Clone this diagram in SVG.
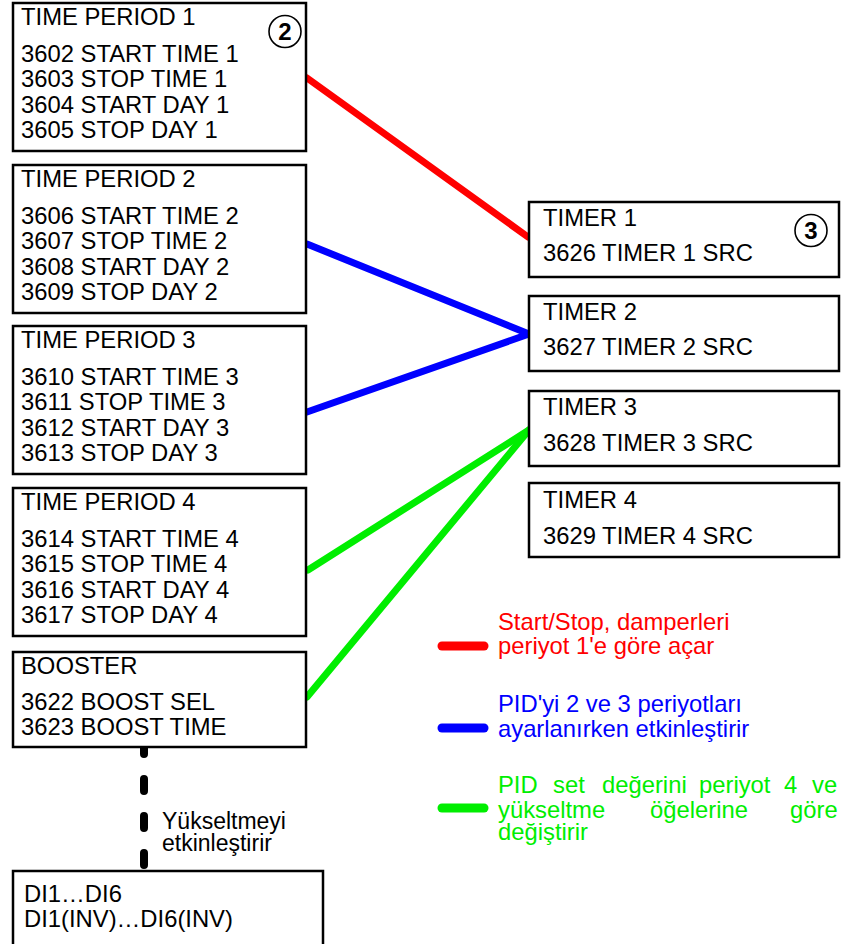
<svg xmlns="http://www.w3.org/2000/svg" width="845" height="944" viewBox="0 0 845 944">
<style>
text{font-family:"Liberation Sans",Arial,sans-serif;font-size:23.8px;fill:#000}
.box{fill:#fff;stroke:#000;stroke-width:2.5}
.num{font-weight:bold;font-size:24px}
.circ{fill:#fff;stroke:#000;stroke-width:1.6}
.c{stroke-width:7;stroke-linecap:round;fill:none}
.r{stroke:#ff0000}.b{stroke:#0000ff}.g{stroke:#00ee00}
.lr{fill:#ff0000}.lb{fill:#0000ff}.lg{fill:#00ee00}
.small{font-size:23px}
</style>
<g id="connectors">
<line class="c r" x1="307" y1="78" x2="528" y2="237"/>
<line class="c b" x1="307" y1="244" x2="529" y2="334"/>
<line class="c b" x1="307" y1="412" x2="529" y2="334"/>
<line class="c g" x1="308" y1="570" x2="529" y2="430"/>
<line class="c g" x1="307" y1="697" x2="529" y2="430"/>
<line x1="144" y1="742" x2="144" y2="871" stroke="#000" stroke-width="8" stroke-linecap="round" stroke-dasharray="12 25"/>
</g>
<g id="tp1">
<rect class="box" x="13" y="3" width="293" height="148"/>
<text x="21" y="25">TIME PERIOD 1</text>
<text x="21" y="61.5">3602 START TIME 1</text>
<text x="21" y="87">3603 STOP TIME 1</text>
<text x="21" y="112.5">3604 START DAY 1</text>
<text x="21" y="138">3605 STOP DAY 1</text>
<circle class="circ" cx="285" cy="31.5" r="16"/>
<text class="num" x="285" y="40" text-anchor="middle">2</text>
</g>
<g id="tp2">
<rect class="box" x="13" y="165" width="293" height="148"/>
<text x="21" y="187">TIME PERIOD 2</text>
<text x="21" y="223.5">3606 START TIME 2</text>
<text x="21" y="249">3607 STOP TIME 2</text>
<text x="21" y="274.5">3608 START DAY 2</text>
<text x="21" y="300">3609 STOP DAY 2</text>
</g>
<g id="tp3">
<rect class="box" x="13" y="326" width="293" height="148"/>
<text x="21" y="348">TIME PERIOD 3</text>
<text x="21" y="384.5">3610 START TIME 3</text>
<text x="21" y="410">3611 STOP TIME 3</text>
<text x="21" y="435.5">3612 START DAY 3</text>
<text x="21" y="461">3613 STOP DAY 3</text>
</g>
<g id="tp4">
<rect class="box" x="13" y="488" width="293" height="148"/>
<text x="21" y="510">TIME PERIOD 4</text>
<text x="21" y="546.5">3614 START TIME 4</text>
<text x="21" y="572">3615 STOP TIME 4</text>
<text x="21" y="597.5">3616 START DAY 4</text>
<text x="21" y="623">3617 STOP DAY 4</text>
</g>
<g id="booster">
<rect class="box" x="13" y="652" width="293" height="95"/>
<text x="21" y="674">BOOSTER</text>
<text x="21" y="709.5">3622 BOOST SEL</text>
<text x="21" y="735">3623 BOOST TIME</text>
</g>
<g id="di">
<rect class="box" x="13" y="871" width="310" height="90"/>
<text x="24" y="902">DI1…DI6</text>
<text x="24" y="927">DI1(INV)…DI6(INV)</text>
</g>
<g id="boost-label">
<text class="small"><tspan x="162" y="829">Yükseltmeyi</tspan><tspan x="162" y="851">etkinleştirir</tspan></text>
</g>
<g id="timer1">
<rect class="box" x="529" y="202" width="310" height="75"/>
<text x="543" y="226">TIMER 1</text>
<text x="543" y="261">3626 TIMER 1 SRC</text>
<circle class="circ" cx="811" cy="230.5" r="16"/>
<text class="num" x="811" y="239" text-anchor="middle">3</text>
</g>
<g id="timer2">
<rect class="box" x="529" y="296" width="310" height="75"/>
<text x="543" y="320">TIMER 2</text>
<text x="543" y="355">3627 TIMER 2 SRC</text>
</g>
<g id="timer3">
<rect class="box" x="529" y="391" width="310" height="75"/>
<text x="543" y="415">TIMER 3</text>
<text x="543" y="451">3628 TIMER 3 SRC</text>
</g>
<g id="timer4">
<rect class="box" x="529" y="483" width="310" height="74"/>
<text x="543" y="508">TIMER 4</text>
<text x="543" y="544">3629 TIMER 4 SRC</text>
</g>
<g id="legend">
<line x1="442" y1="646" x2="484" y2="646" stroke="#ff0000" stroke-width="9" stroke-linecap="round"/>
<text class="lr"><tspan x="498" y="630">Start/Stop, damperleri</tspan><tspan x="498" y="654">periyot 1'e göre açar</tspan></text>
<line x1="442" y1="728" x2="484" y2="728" stroke="#0000ff" stroke-width="9" stroke-linecap="round"/>
<text class="lb"><tspan x="498" y="712">PID'yi 2 ve 3 periyotları</tspan><tspan x="498" y="737">ayarlanırken etkinleştirir</tspan></text>
<line x1="442" y1="808" x2="484" y2="808" stroke="#00ee00" stroke-width="9" stroke-linecap="round"/>
<text class="lg"><tspan x="498" y="793">PID</tspan><tspan x="553" y="793">set</tspan><tspan x="602" y="793">değerini</tspan><tspan x="699" y="793">periyot</tspan><tspan x="784" y="793">4</tspan><tspan x="812" y="793">ve</tspan><tspan x="498" y="818">yükseltme</tspan><tspan x="650" y="818">öğelerine</tspan><tspan x="790" y="818">göre</tspan><tspan x="498" y="840">değiştirir</tspan></text>
</g>
</svg>
